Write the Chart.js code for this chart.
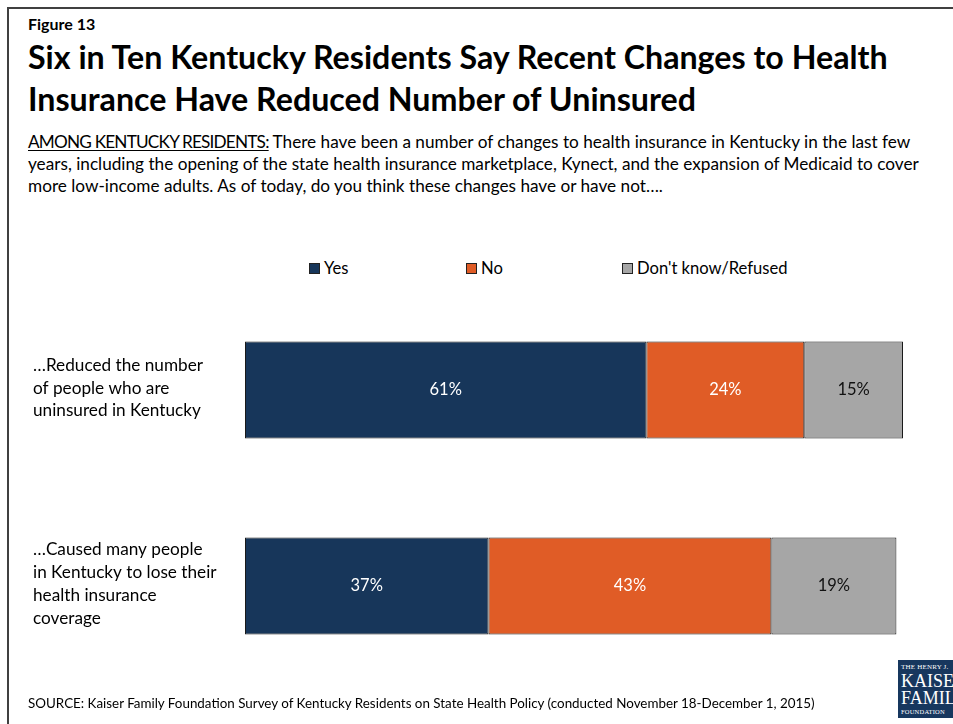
<!DOCTYPE html>
<html>
<head>
<meta charset="utf-8">
<script src="https://cdn.jsdelivr.net/npm/chart.js@4/dist/chart.umd.min.js"></script>
<style>
  html, body { margin: 0; padding: 0; background: #fff; }
  body { width: 953px; height: 724px; position: relative; overflow: hidden; font-family: Lato, "Open Sans", sans-serif; color: #000; }
  .frame { position: absolute; left: 7px; top: 7px; width: 1000px; height: 800px; border-left: 2px solid #404040; border-top: 2px solid #404040; }
  .fig { position: absolute; left: 28px; top: 14px; font-weight: bold; font-size: 16px; }
  .title { position: absolute; left: 28px; top: 36px; font-weight: bold; font-size: 32.2px; line-height: 42px; white-space: nowrap; }
  .sub { position: absolute; left: 28px; top: 131px; font-size: 17.2px; line-height: 21.8px; white-space: nowrap; }
  .sub u { text-decoration-thickness: 1px; text-underline-offset: 2px; letter-spacing: -0.8px; }
  .legend { position: absolute; top: 258px; left: 0; height: 22px; font-size: 16.6px; }
  .legend span.item { position: absolute; white-space: nowrap; line-height: 20px; }
  .legend i { display: inline-block; width: 9px; height: 9px; border: 1px solid #222; margin-right: 4px; vertical-align: 0px; }
  .source { position: absolute; left: 28px; top: 695px; font-size: 13.4px; white-space: nowrap; }
  .logo { position: absolute; left: 898px; top: 660px; width: 70px; height: 58px; background: #17375e; color: #fff; font-family: "Liberation Serif", "DejaVu Serif", serif; overflow: hidden; }
  .logo div { position: absolute; left: 3px; white-space: nowrap; }
  #wrap { position: absolute; left: 25px; top: 280px; width: 928px; height: 420px; }
</style>
</head>
<body>
<div class="frame"></div>
<div class="fig">Figure 13</div>
<div class="title">Six in Ten Kentucky Residents Say Recent Changes to Health<br>Insurance Have Reduced Number of Uninsured</div>
<div class="sub"><u>AMONG KENTUCKY RESIDENTS:</u> There have been a number of changes to health insurance in Kentucky in the last few<br>years, including the opening of the state health insurance marketplace, Kynect, and the expansion of Medicaid to cover<br>more low-income adults. As of today, do you think these changes have or have not….</div>
<div class="legend" id="legend"></div>
<div id="wrap"><canvas id="myChart"></canvas></div>
<div class="source">SOURCE: Kaiser Family Foundation Survey of Kentucky Residents on State Health Policy (conducted November 18-December 1, 2015)</div>
<div class="logo">
  <div style="top:3px;font-size:7px;letter-spacing:0.2px;">THE HENRY J.</div>
  <div style="top:12px;font-size:18px;line-height:18px;">KAISER</div>
  <div style="top:29px;font-size:18px;line-height:18px;">FAMILY</div>
  <div style="top:48px;font-size:6.5px;letter-spacing:0.2px;">FOUNDATION</div>
</div>
<script>
const categories = [
    ["…Reduced the number", "of people who are", "uninsured in Kentucky"],
    ["…Caused many people", "in Kentucky to lose their", "health insurance", "coverage"]
];
const seriesNames = ["Yes", "No", "Don't know/Refused"];
const yesValues = [61, 37];
const noValues = [24, 43];
const dontKnowValues = [15, 19];

const seriesColors = ["#17365a", "#e05c26", "#a6a6a6"];
const labelColors = ["#ffffff", "#ffffff", "#111111"];
const legendLeft = [309, 466, 622];

window.addEventListener("load", function(){
    legendGo();
    graph();
});

function legendGo() {
    let legend = document.getElementById("legend");
    for (let i = 0; i < seriesNames.length; i++) {
        legend.innerHTML +=
        `<span class="item" style="left:${legendLeft[i]}px"><i style="background:${seriesColors[i]}"></i>${seriesNames[i]}</span>`;
    }
}

// writes each segment's value in the middle of its bar
const barLabels = {
    id: 'barLabels',
    afterDatasetsDraw(chart) {
        const ctx = chart.ctx;
        ctx.save();
        ctx.font = '16.5px Lato, "Open Sans", sans-serif';
        ctx.textAlign = 'center';
        ctx.textBaseline = 'middle';
        chart.data.datasets.forEach(function(ds, i){
            chart.getDatasetMeta(i).data.forEach(function(bar, j){
                const c = bar.getCenterPoint();
                ctx.fillStyle = labelColors[i];
                ctx.fillText(ds.data[j] + '%', c.x, c.y);
            });
        });
        ctx.restore();
    }
};

function graph() {
    const allValues = [yesValues, noValues, dontKnowValues];
    const datasets = [];
    for (let i = 0; i < seriesNames.length; i++) {
        datasets.push({
            label: seriesNames[i],
            data: allValues[i],
            backgroundColor: seriesColors[i],
            borderColor: '#1a1a1a',
            borderWidth: 1,
            borderSkipped: false,
            barPercentage: 0.495,
            categoryPercentage: 1
        });
    }

    var ctx = document.getElementById('myChart').getContext('2d');
    var chart = new Chart(ctx, {
        type: 'bar',
        data: { labels: categories, datasets: datasets },
        options: {
            indexAxis: 'y',
            responsive: true,
            maintainAspectRatio: false,
            animation: false,
            layout: { padding: { left: 8, right: 50, top: 12, bottom: 16 } },
            plugins: { legend: { display: false }, tooltip: { enabled: false } },
            scales: {
                x: { stacked: true, min: 0, max: 100, display: false },
                y: {
                    stacked: true,
                    grid: { display: false },
                    border: { display: false },
                    afterFit: function(scale){
                        // fixed label column, no extra room for tall labels
                        scale.width = 212;
                        scale.paddingTop = 0;
                        scale.paddingBottom = 0;
                    },
                    ticks: {
                        crossAlign: 'far',
                        color: '#000',
                        labelOffset: -2,
                        font: { family: 'Lato, "Open Sans", sans-serif', size: 17.2, lineHeight: 1.32 }
                    }
                }
            }
        },
        plugins: [barLabels]
    });
}
</script>
</body>
</html>
